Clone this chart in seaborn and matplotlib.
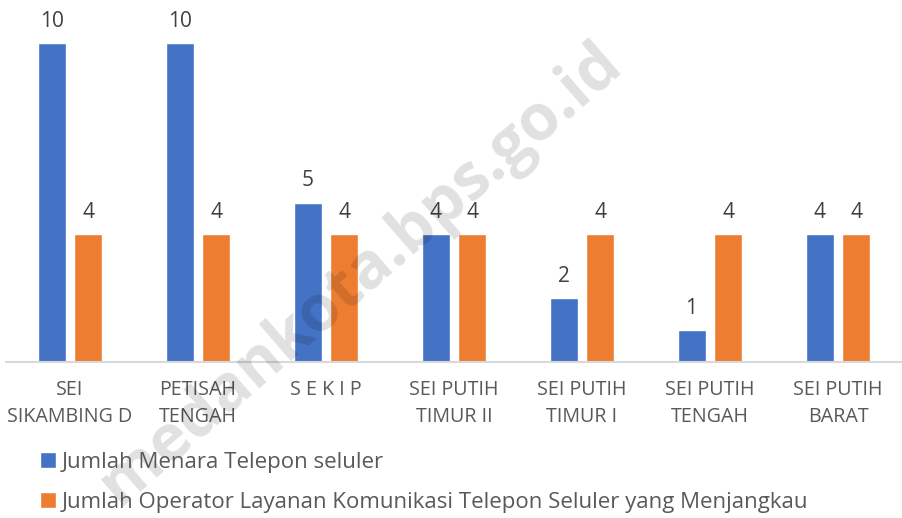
import pandas as pd
import seaborn as sb
import matplotlib.pyplot as plt

kelurahan = ["SEI\nSIKAMBING D", "PETISAH\nTENGAH", "S E K I P", "SEI PUTIH\nTIMUR II",
             "SEI PUTIH\nTIMUR I", "SEI PUTIH\nTENGAH", "SEI PUTIH\nBARAT"]
menara = [10, 10, 5, 4, 2, 1, 4]
operator = [4, 4, 4, 4, 4, 4, 4]
series = ["Jumlah Menara Telepon seluler",
          "Jumlah Operator Layanan Komunikasi Telepon Seluler yang Menjangkau"]

df = pd.DataFrame({
    "kelurahan": kelurahan * 2,
    "nilai": menara + operator,
    "seri": [series[0]] * len(kelurahan) + [series[1]] * len(kelurahan),
})

sb.set_style("white")
plt.rcParams["font.family"] = ["Open Sans", "DejaVu Sans"]
grey = "#595959"

fig = plt.figure(figsize=(9.02, 5.18), dpi=100)
ax = fig.add_axes([6 / 902, (518 - 362) / 518, 896 / 902, 362 / 518])

sb.barplot(data=df, x="kelurahan", y="nilai", hue="seri", order=kelurahan,
           palette=["#4472C4", "#ED7D31"], width=0.578, gap=0.243,
           saturation=1, ax=ax, legend=True)

for c in ax.containers:
    ax.bar_label(c, padding=8, fontsize=15, color="#404040")

ax.set_ylim(0, 11.35)
ax.set_xlabel("")
ax.set_ylabel("")
ax.set_yticks([])
ax.tick_params(axis="x", length=0, pad=13, labelsize=14.2, labelcolor=grey)
for lab in ax.get_xticklabels():
    lab.set_linespacing(1.45)
for s in ["top", "left", "right"]:
    ax.spines[s].set_visible(False)
ax.spines["bottom"].set_color("#d9d9d9")
ax.spines["bottom"].set_linewidth(1.5)

handles, labels = ax.get_legend_handles_labels()
ax.get_legend().remove()
fig.legend(handles, labels, loc="upper left", bbox_to_anchor=(0.035, 0.145),
           ncol=1, frameon=False, fontsize=16, labelcolor=grey,
           handlelength=0.7, handleheight=0.7, handletextpad=0.25,
           labelspacing=0.85, borderaxespad=0)

fig.text(0.40, 0.47, "medankota.bps.go.id", rotation=41, fontsize=46,
         fontweight="bold", color="#000000", alpha=0.12,
         ha="center", va="center")

plt.savefig("out.png", dpi=100)
